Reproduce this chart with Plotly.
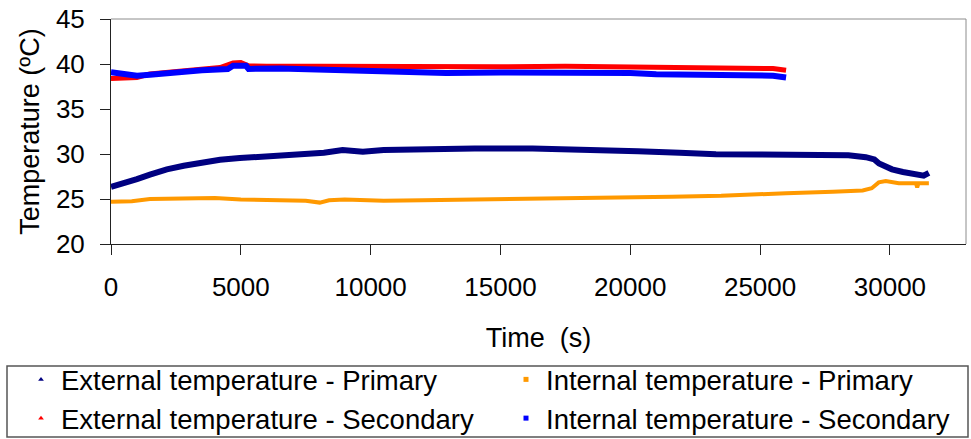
import plotly.graph_objects as go

# ---- data ----
t_ext_pri = [0, 500, 1000, 1500, 2150, 2800, 3420, 4200, 4960, 6000, 7270, 8200, 8920, 9700, 10500,
             12270, 14000, 16240, 17500, 18800, 20300, 21900, 23300, 25000, 27270, 28400, 29070,
             29400, 29580, 29800, 30080, 30500, 31120, 31300, 31500]
v_ext_pri = [26.35, 26.7, 27.2, 27.7, 28.3, 28.7, 29.05, 29.35, 29.55, 29.75, 29.95, 30.15, 30.45,
             30.25, 30.45, 30.55, 30.6, 30.6, 30.55, 30.4, 30.3, 30.15, 29.98, 29.95, 29.95, 29.85,
             29.65, 29.4, 28.95, 28.6, 28.3, 28.0, 27.8, 27.6, 27.9]

t_int_pri = [0, 800, 1500, 2500, 4000, 5000, 6500, 7500, 8040, 8400, 9000, 10500, 12000, 13500,
             15000, 18000, 20000, 21600, 23500, 24450, 26000, 27800, 28950, 29300, 29570, 29840,
             30340, 31000, 31050, 31100, 31500]
v_int_pri = [24.7, 24.75, 25.0, 25.0, 25.1, 24.95, 24.9, 24.8, 24.6, 24.85, 24.95, 24.8, 24.85,
             24.9, 25.0, 25.05, 25.1, 25.25, 25.35, 25.5, 25.65, 25.8, 25.95, 26.2, 26.85, 27.0,
             26.75, 26.75, 26.3, 26.75, 26.75]

t_ext_sec = [0, 500, 1000, 1500, 2500, 3500, 4200, 4700, 5000, 5300, 6000, 8000, 10000, 12000,
             15000, 17500, 20000, 22500, 24000, 25500, 26000]
v_ext_sec = [38.4, 38.5, 38.5, 38.9, 39.2, 39.5, 39.6, 40.1, 40.15, 39.8, 39.75, 39.75, 39.7,
             39.65, 39.7, 39.75, 39.7, 39.6, 39.65, 39.5, 39.3]

t_int_sec = [0, 500, 1000, 1500, 2500, 3500, 4500, 4700, 5200, 5300, 6500, 8000, 9000, 10500,
             12000, 12900, 15000, 18000, 20000, 21000, 23000, 24500, 25500, 26000]
v_int_sec = [39.1, 38.9, 38.7, 38.8, 39.1, 39.3, 39.45, 39.8, 39.8, 39.45, 39.5, 39.4, 39.3,
             39.25, 39.2, 39.0, 39.05, 39.1, 39.0, 38.85, 38.85, 38.75, 38.7, 38.5]

names = ["External temperature - Primary", "Internal temperature - Primary",
         "External temperature - Secondary", "Internal temperature - Secondary"]
colors = ["#000080", "#FF9900", "#FF0000", "#0000FF"]
widths = [6, 4, 5, 6]
symbols = ["triangle-up", "square", "triangle-up", "square"]

x_ticks = [0, 5000, 10000, 15000, 20000, 25000, 30000]
y_ticks = [20, 25, 30, 35, 40, 45]

FONT = "Arial, Liberation Sans, sans-serif"

fig = go.Figure()
series = [(t_ext_pri, v_ext_pri), (t_int_pri, v_int_pri), (t_ext_sec, v_ext_sec), (t_int_sec, v_int_sec)]
for (tx, vy), c, w in zip(series, colors, widths):
    fig.add_trace(go.Scatter(x=tx, y=vy, mode="lines", line=dict(color=c, width=w),
                             showlegend=False, hoverinfo="skip"))
for n, c, s in zip(names, colors, symbols):
    fig.add_trace(go.Scatter(x=[None], y=[None], mode="markers", name=n,
                             marker=dict(color=c, size=5, symbol=s)))

W, H = 971, 439
L, R, T, B = 111, 5, 19, 195
pw, ph = W - L - R, H - T - B

def px_x(p):
    return (p - L) / pw

def px_y(p):
    return (H - B - p) / ph

fig.update_layout(
    width=W, height=H,
    margin=dict(l=L, r=R, t=T, b=B, autoexpand=False),
    paper_bgcolor="white", plot_bgcolor="white",
    font=dict(family=FONT, color="black", size=26),
    xaxis=dict(range=[0, 32930], tickvals=x_ticks, ticktext=[str(v) for v in x_ticks],
               showgrid=False, zeroline=False, showline=True, linecolor="#222", linewidth=1,
               ticks="outside", ticklen=10, tickcolor="#222", ticklabelstandoff=10,
               tickfont=dict(size=26), automargin=False,
               title=dict(text="Time  (s)", font=dict(size=27), standoff=26)),
    yaxis=dict(range=[20, 45], tickvals=y_ticks, showgrid=False, zeroline=False,
               showline=True, linecolor="#222", linewidth=1,
               ticks="outside", ticklen=10, tickcolor="#222", ticklabelstandoff=10,
               tickfont=dict(size=26), automargin=False,
               title=dict(text="Temperature (ºC)", font=dict(size=27), standoff=8)),
    legend=dict(orientation="h", x=px_x(21), y=px_y(355), xanchor="left", yanchor="top",
                entrywidth=440, entrywidthmode="pixels", font=dict(size=27.5),
                bgcolor="rgba(0,0,0,0)", borderwidth=0, itemsizing="trace"),
    shapes=[
        dict(type="line", xref="paper", yref="paper", x0=0, x1=1, y0=1, y1=1,
             line=dict(color="#8c8c8c", width=1)),
        dict(type="line", xref="paper", yref="paper", x0=1, x1=1, y0=0, y1=1,
             line=dict(color="#8c8c8c", width=1)),
        dict(type="rect", xref="paper", yref="paper", x0=px_x(7), x1=px_x(968),
             y0=px_y(437), y1=px_y(366), line=dict(color="#555", width=1.5)),
    ],
)

fig.write_html("out.html", config={"displayModeBar": False},
               post_script="document.body.style.margin='0';document.body.style.overflow='hidden';")
